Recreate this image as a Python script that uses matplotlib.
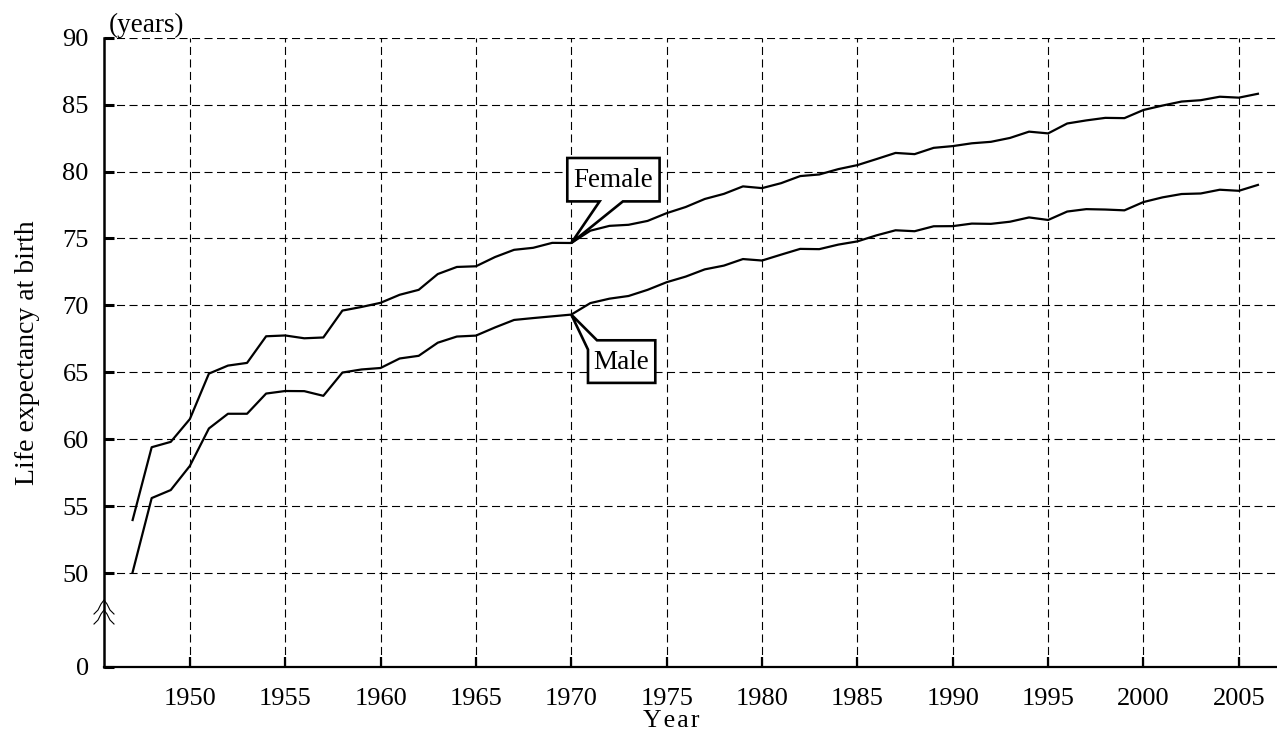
import matplotlib.pyplot as plt
import matplotlib.transforms as mtransforms
from matplotlib.patches import Polygon
import numpy as np

plt.rcParams['font.family'] = ['Liberation Serif', 'DejaVu Serif']
plt.rcParams['lines.scale_dashes'] = False

years = list(range(1947, 2007))
male = [50.06, 55.6, 56.2, 58.0, 60.8, 61.9, 61.9, 63.41, 63.60, 63.59,
        63.24, 64.98, 65.21, 65.32, 66.03, 66.23, 67.21, 67.67, 67.74, 68.35,
        68.91, 69.05, 69.18, 69.31, 70.17, 70.50, 70.70, 71.16, 71.73, 72.15,
        72.69, 72.97, 73.46, 73.35, 73.79, 74.22, 74.20, 74.54, 74.78, 75.23,
        75.61, 75.54, 75.91, 75.92, 76.11, 76.09, 76.25, 76.57, 76.38, 77.01,
        77.19, 77.16, 77.10, 77.72, 78.07, 78.32, 78.36, 78.64, 78.56, 79.00]
female = [53.96, 59.4, 59.8, 61.5, 64.9, 65.5, 65.7, 67.69, 67.75, 67.54,
          67.60, 69.61, 69.88, 70.19, 70.79, 71.16, 72.34, 72.87, 72.92, 73.61,
          74.15, 74.30, 74.67, 74.66, 75.58, 75.94, 76.02, 76.31, 76.89, 77.35,
          77.95, 78.33, 78.89, 78.76, 79.13, 79.66, 79.78, 80.18, 80.48, 80.93,
          81.39, 81.30, 81.77, 81.90, 82.11, 82.22, 82.51, 82.98, 82.85, 83.59,
          83.82, 84.01, 83.99, 84.60, 84.93, 85.23, 85.33, 85.59, 85.52, 85.81]
x_ticks = [1950, 1955, 1960, 1965, 1970, 1975, 1980, 1985, 1990, 1995, 2000, 2005]
y_ticks = [50, 55, 60, 65, 70, 75, 80, 85, 90]
label_year = 1970

# broken axis: value 0 is drawn this far below 50
gap = 7
y_zero = y_ticks[0] - gap

fig = plt.figure(figsize=(12.77, 7.33), dpi=100)
ax = fig.add_axes([104 / 1277, 1 - 666.7 / 733, 1 - 104 / 1277, (666.7 - 37.7) / 733])

ax.plot(years, female, color='black', lw=1.6, zorder=3)
ax.plot(years, male, color='black', lw=1.6, zorder=3)

ax.set_xlim(1945.5, 2007)
ax.set_ylim(y_zero, y_ticks[-1])
ax.set_xticks(x_ticks)
ax.set_xticklabels([str(v) for v in x_ticks])
ax.set_yticks([y_zero] + y_ticks)
ax.set_yticklabels(['0'] + [str(v) for v in y_ticks])

for v in x_ticks:
    ax.axvline(v, color='black', lw=0.8, ls=(0, (5.8, 3.2)), zorder=1)
for v in y_ticks:
    ax.axhline(v, color='black', lw=0.8, ls=(0, (5.8, 3.2)), zorder=1)

ax.spines['top'].set_visible(False)
ax.spines['right'].set_visible(False)
ax.spines['left'].set_linewidth(1.8)
ax.spines['bottom'].set_linewidth(1.6)
ax.tick_params(axis='y', direction='in', length=7, width=2.2, pad=11, labelsize=19)
ax.tick_params(axis='x', direction='in', length=7, width=1.6, pad=15, labelsize=19)

ax.set_ylabel('Life expectancy at birth', fontsize=20, labelpad=16)
ax.set_xlabel('Y e a r'.replace(' ', '\u200a'), fontsize=18.5)
ax.xaxis.set_label_coords(0.484, -0.069)
ax.text(0.004, 1.0, '(years)', transform=ax.transAxes, fontsize=19.5,
        ha='left', va='bottom')


def anchored(x, y):
    # vertices in pixels (at dpi 100) relative to a data point
    return mtransforms.Affine2D().scale(1 / 100) + fig.dpi_scale_trans + \
        mtransforms.ScaledTranslation(x, y, ax.transData)


def callout(x, y, verts, text, center):
    t = anchored(x, y)
    ax.add_patch(Polygon(verts, closed=True, facecolor='white', edgecolor='black',
                         lw=1.9, transform=t, zorder=5, clip_on=False,
                         joinstyle='miter'))
    ax.text(center[0], center[1], text, transform=t, fontsize=19.5,
            ha='center', va='center', zorder=6)


i = years.index(label_year)
callout(label_year, female[i],
        [(0, 0), (28.3, 41.6), (-4, 41.6), (-4, 85), (88.3, 85), (88.3, 41.6), (51.6, 41.6)],
        'Female', (42, 62))
callout(label_year, male[i],
        [(0, 0), (25.7, -25.7), (84, -25.7), (84, -68.3), (16.7, -68.3), (16.7, -35)],
        'Male', (50.3, -48))

# break marks on the y axis
tb = anchored(1945.5, y_ticks[0])
for top in (-27, -37):
    xs = np.array([-10, -6, -3, 0, 3, 6, 10])
    ys = top - np.array([14, 10, 4, 0, 4, 10, 14])
    ax.plot(xs, ys, color='black', lw=0.8, transform=tb, clip_on=False, zorder=4)

fig.savefig('out.png', dpi=100)
